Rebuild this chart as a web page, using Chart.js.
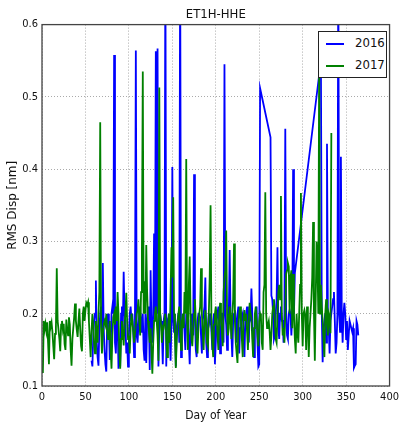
<!DOCTYPE html>
<html>
<head>
<meta charset="utf-8">
<script src="https://cdn.jsdelivr.net/npm/chart.js@4.4.0/dist/chart.umd.min.js"></script>
<style>
  html, body { margin: 0; padding: 0; background: #fff; }
  #wrap { position: relative; width: 404px; height: 423px; }
  #legend {
    position: absolute; left: 318px; top: 31px; width: 69px; height: 47px;
    background: #fff; border: 1px solid #222; box-sizing: border-box;
    font-family: 'DejaVu Sans Condensed', 'DejaVu Sans', sans-serif; font-size: 13px; color: #111;
  }
  .row { position: absolute; left: 0; height: 16px; width: 100%; }
  .swatch { position: absolute; left: 7px; top: 7px; width: 18px; height: 2px; }
  .label { position: absolute; left: 36px; top: -1px; line-height: 16px; }
</style>
</head>
<body>
<div id="wrap">
  <canvas id="grafico" width="404" height="423"></canvas>
  <div id="legend"></div>
</div>
<script>
// nomes e cores das series
const seriesNames = ['2016', '2017'];
const seriesColors = ['#0000ff', '#008000'];

// ticks dos eixos
const xTicks = [0, 50, 100, 150, 200, 250, 300, 350, 400];
const yTicks = [0.1, 0.2, 0.3, 0.4, 0.5, 0.6];

// 2016: dias 57-251
const start2016a = 57;
const rms2016a = [
  0.135, 0.127, 0.17, 0.19,
  0.2, 0.246, 0.16, 0.14, 0.128, 0.18, 0.2, 0.21, 0.17, 0.27,       // 61
  0.18, 0.15, 0.13, 0.12, 0.19, 0.2, 0.185, 0.136, 0.15, 0.2,       // 71
  0.21, 0.2, 0.558, 0.16, 0.145, 0.19, 0.2, 0.124, 0.16, 0.127,     // 81
  0.2, 0.21, 0.18, 0.258, 0.2, 0.19, 0.145, 0.16, 0.127, 0.17,      // 91
  0.2, 0.21, 0.19, 0.2, 0.175, 0.14, 0.2, 0.564, 0.17, 0.16,        // 101
  0.185, 0.2, 0.21, 0.175, 0.19, 0.2, 0.15, 0.135, 0.2, 0.132,      // 111
  0.19, 0.21, 0.2, 0.122, 0.26, 0.18, 0.16, 0.2, 0.311, 0.2,        // 121
  0.563, 0.2, 0.567, 0.127, 0.18, 0.2, 0.19, 0.175, 0.13, 0.19,     // 131
  0.2, 0.7, 0.127, 0.19, 0.185, 0.2, 0.17, 0.135, 0.19, 0.403,      // 141
  0.19, 0.175, 0.2, 0.127, 0.18, 0.19, 0.2, 0.16, 0.7, 0.14,        // 151
  0.185, 0.19, 0.2, 0.175, 0.15, 0.2, 0.19, 0.185, 0.16, 0.13,      // 161
  0.19, 0.2, 0.185, 0.17, 0.393, 0.2, 0.15, 0.14, 0.19, 0.2,        // 171
  0.2, 0.195, 0.17, 0.145, 0.19, 0.2, 0.21, 0.25, 0.16, 0.14,       // 181
  0.185, 0.2, 0.19, 0.2, 0.175, 0.15, 0.19, 0.2, 0.13, 0.16,        // 191
  0.19, 0.2, 0.21, 0.18, 0.145, 0.19, 0.2, 0.2, 0.16, 0.545,        // 201
  0.2, 0.185, 0.15, 0.19, 0.2, 0.288, 0.2, 0.17, 0.14, 0.19,        // 211
  0.2, 0.205, 0.19, 0.16, 0.2, 0.21, 0.145, 0.18, 0.2, 0.195,       // 221
  0.2, 0.17, 0.14, 0.19, 0.2, 0.21, 0.19, 0.16, 0.2, 0.195,         // 231
  0.235, 0.2, 0.15, 0.14, 0.19, 0.2, 0.21, 0.16, 0.127, 0.13,       // 241
  0.512                                                              // 251
];

// 2016: dias 263-291
const start2016b = 263;
const rms2016b = [
  0.444,
  0.225, 0.22, 0.2, 0.165, 0.17, 0.2, 0.22,                         // 264
  0.292, 0.18, 0.165, 0.2, 0.21, 0.19, 0.19, 0.16, 0.2, 0.456,      // 271
  0.2, 0.17, 0.165, 0.2, 0.205, 0.2, 0.17, 0.2, 0.4, 0.2,           // 281
  0.256                                                              // 291
];

// 2016: dias 321-364
const start2016c = 321;
const rms2016c = [
  0.55,
  0.2, 0.133, 0.18, 0.19, 0.2, 0.16, 0.435, 0.2, 0.18,              // 322
  0.145, 0.19, 0.2, 0.21, 0.22, 0.23, 0.19, 0.145, 0.16, 0.2,       // 331
  0.7, 0.2, 0.175, 0.417, 0.2, 0.16, 0.2, 0.215, 0.2, 0.165,        // 341
  0.19, 0.15, 0.17, 0.19, 0.185, 0.18, 0.175, 0.18, 0.125, 0.128,   // 351
  0.13, 0.19, 0.185, 0.17                                           // 361
];

// 2017: dias 1-333
const start2017 = 1;
const rms2017 = [
  0.118, 0.19, 0.178, 0.186, 0.176, 0.188, 0.16, 0.13, 0.19, 0.182,   // 1
  0.188, 0.175, 0.155, 0.137, 0.172, 0.18, 0.263, 0.19, 0.178, 0.165, // 11
  0.148, 0.185, 0.19, 0.178, 0.186, 0.158, 0.15, 0.192, 0.18, 0.17,   // 21
  0.195, 0.185, 0.15, 0.128, 0.165, 0.18, 0.195, 0.214, 0.19, 0.178,  // 31
  0.168, 0.19, 0.207, 0.178, 0.155, 0.148, 0.2, 0.21, 0.19, 0.205,    // 41
  0.215, 0.212, 0.216, 0.19, 0.165, 0.14, 0.175, 0.2, 0.185, 0.16,    // 51
  0.145, 0.19, 0.175, 0.16, 0.2, 0.23, 0.465, 0.18, 0.145, 0.17,      // 61
  0.185, 0.19, 0.185, 0.2, 0.176, 0.165, 0.176, 0.19, 0.15, 0.124,    // 71
  0.17, 0.195, 0.2, 0.185, 0.21, 0.19, 0.23, 0.2, 0.15, 0.124,        // 81
  0.165, 0.19, 0.175, 0.156, 0.185, 0.2, 0.229, 0.19, 0.165, 0.17,    // 91
  0.145, 0.18, 0.2, 0.19, 0.175, 0.16, 0.16, 0.185, 0.2, 0.205,       // 101
  0.22, 0.19, 0.17, 0.23, 0.29, 0.535, 0.2, 0.245, 0.2, 0.295,        // 111
  0.23, 0.19, 0.176, 0.16, 0.18, 0.147, 0.117, 0.16, 0.19, 0.2,       // 121
  0.21, 0.19, 0.17, 0.135, 0.513, 0.2, 0.185, 0.16, 0.175, 0.18,      // 131
  0.19, 0.2, 0.165, 0.14, 0.18, 0.2, 0.16, 0.23, 0.292, 0.25,         // 141
  0.361, 0.2, 0.17, 0.125, 0.16, 0.185, 0.2, 0.21, 0.175, 0.15,       // 151
  0.19, 0.2, 0.18, 0.23, 0.2, 0.414, 0.19, 0.15, 0.24, 0.279,         // 161
  0.2, 0.165, 0.155, 0.18, 0.2, 0.22, 0.19, 0.16, 0.145, 0.18,        // 171
  0.2, 0.21, 0.263, 0.2, 0.175, 0.15, 0.19, 0.205, 0.185, 0.16,       // 181
  0.155, 0.2, 0.25, 0.35, 0.19, 0.16, 0.14, 0.185, 0.2, 0.21,         // 191
  0.195, 0.17, 0.15, 0.2, 0.215, 0.19, 0.175, 0.155, 0.23, 0.25,      // 201
  0.26, 0.315, 0.2, 0.17, 0.18, 0.21, 0.195, 0.165, 0.2, 0.22,        // 211
  0.297, 0.19, 0.16, 0.145, 0.132, 0.185, 0.2, 0.21, 0.19, 0.165,     // 221
  0.14, 0.195, 0.205, 0.19, 0.2, 0.175, 0.15, 0.19, 0.215, 0.2,       // 231
  0.195, 0.165, 0.14, 0.18, 0.2, 0.21, 0.19, 0.17, 0.155, 0.19,       // 241
  0.2, 0.195, 0.16, 0.15, 0.23, 0.24, 0.368, 0.2, 0.18, 0.185,        // 251
  0.19, 0.175, 0.15, 0.17, 0.2, 0.21, 0.22, 0.19, 0.165, 0.16,        // 261
  0.2, 0.23, 0.24, 0.22, 0.363, 0.2, 0.17, 0.18, 0.16, 0.2,           // 271
  0.255, 0.26, 0.27, 0.265, 0.2, 0.25, 0.26, 0.18, 0.255, 0.2,        // 281
  0.165, 0.145, 0.2, 0.175, 0.16, 0.2, 0.24, 0.367, 0.2, 0.155,       // 291
  0.2, 0.205, 0.198, 0.15, 0.21, 0.19, 0.14, 0.18, 0.2, 0.22,         // 301
  0.25, 0.327, 0.2, 0.135, 0.22, 0.3, 0.27, 0.2, 0.56, 0.2,           // 311
  0.24, 0.21, 0.19, 0.165, 0.14, 0.2, 0.22, 0.185, 0.17, 0.2,         // 321
  0.195, 0.173, 0.45                                                   // 331
];

function toPoints(start, values) {
  return values.map((v, i) => ({ x: start + i, y: v }));
}

const dados2016 = [].concat(
  toPoints(start2016a, rms2016a),
  toPoints(start2016b, rms2016b),
  toPoints(start2016c, rms2016c)
);
const dados2017 = toPoints(start2017, rms2017);

const fonte = "'DejaVu Sans Condensed', 'DejaVu Sans', sans-serif";

// moldura em volta da area do grafico
const moldura = {
  id: 'moldura',
  afterDatasetsDraw(chart) {
    const a = chart.chartArea;
    const c = chart.ctx;
    c.save();
    c.strokeStyle = '#444';
    c.lineWidth = 1.3;
    c.strokeRect(a.left, a.top, a.right - a.left, a.bottom - a.top);
    c.restore();
  }
};

new Chart(document.getElementById('grafico'), {
  type: 'line',
  data: {
    datasets: [
      { label: seriesNames[0], data: dados2016, borderColor: seriesColors[0], borderWidth: 1.8, pointRadius: 0, tension: 0, order: 2 },
      { label: seriesNames[1], data: dados2017, borderColor: seriesColors[1], borderWidth: 1.8, pointRadius: 0, tension: 0, order: 1 }
    ]
  },
  options: {
    responsive: false,
    animation: false,
    layout: { padding: { left: 0, right: 10, top: 0, bottom: 0 } },
    plugins: {
      legend: { display: false },
      tooltip: { enabled: false },
      title: {
        display: true, text: 'ET1H-HHE', fullSize: false, color: '#111',
        font: { family: fonte, size: 13, weight: 'normal' },
        padding: { top: 7, bottom: 2 }
      }
    },
    scales: {
      x: {
        type: 'linear', min: 0, max: 400,
        afterBuildTicks: s => { s.ticks = xTicks.map(v => ({ value: v })); },
        afterFit: s => { s.height = 37; },
        ticks: { color: '#111', font: { family: fonte, size: 11 }, padding: 5, maxRotation: 0 },
        grid: { color: '#aaa', drawTicks: false, lineWidth: 1 },
        border: { display: false, dash: [1, 2] },
        title: { display: true, text: 'Day of Year', color: '#111', font: { family: fonte, size: 12 }, padding: { top: 0, bottom: 0 } }
      },
      y: {
        min: 0.1, max: 0.6,
        afterBuildTicks: s => { s.ticks = yTicks.map(v => ({ value: v })); },
        afterFit: s => { s.width = 42; },
        ticks: { color: '#111', font: { family: fonte, size: 11 }, padding: 4, callback: v => v.toFixed(1) },
        grid: { color: '#aaa', drawTicks: false, lineWidth: 1 },
        border: { display: false, dash: [1, 2] },
        title: { display: true, text: 'RMS Disp [nm]', color: '#111', font: { family: "'DejaVu Sans', sans-serif", size: 12 }, padding: { top: 6, bottom: 0 } }
      }
    }
  },
  plugins: [moldura]
});

// legenda em html por cima do grafico
const legenda = document.getElementById('legend');
seriesNames.forEach((nome, i) => {
  const row = document.createElement('div');
  row.className = 'row';
  row.style.top = (4 + i * 22) + 'px';
  const sw = document.createElement('span');
  sw.className = 'swatch';
  sw.style.background = seriesColors[i];
  const lb = document.createElement('span');
  lb.className = 'label';
  lb.innerText = nome;
  row.appendChild(sw);
  row.appendChild(lb);
  legenda.appendChild(row);
});
</script>
</body>
</html>
